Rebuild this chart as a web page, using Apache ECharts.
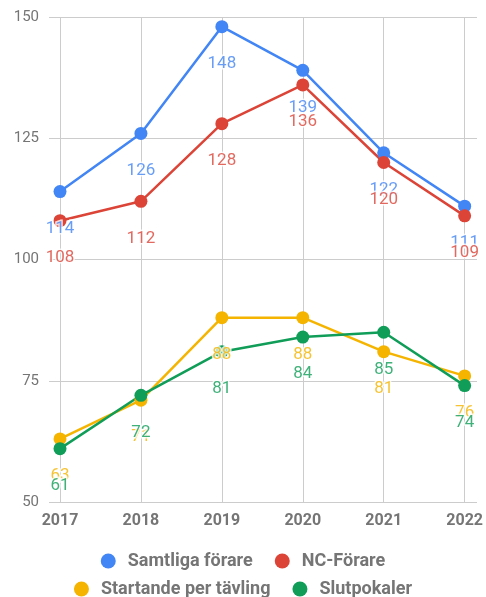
<!DOCTYPE html>
<html>
<head>
<meta charset="utf-8">
<script src="https://cdn.jsdelivr.net/npm/echarts@6/dist/echarts.min.js"></script>
<style>
  html, body { margin: 0; padding: 0; background: #fff; }
  #chart { width: 486px; height: 597px; }
</style>
</head>
<body>
<div id="chart"></div>
<script>
const years = ['2017', '2018', '2019', '2020', '2021', '2022']
const samtliga = [114, 126, 148, 139, 122, 111]
const ncForare = [108, 112, 128, 136, 120, 109]
const startande = [63, 71, 88, 88, 81, 76]
const slutpokaler = [61, 72, 81, 84, 85, 74]

const seriesNames = ['Samtliga förare', 'NC-Förare', 'Startande per tävling', 'Slutpokaler']
const colors = ['#4285F4', '#DB4437', '#F4B400', '#0F9D58']
const allValues = [samtliga, ncForare, startande, slutpokaler]

const font = 'Roboto, Arial, sans-serif'
const grey = '#757575'

const chart = echarts.init(document.getElementById('chart'))

// lines + points
function makeLine (i) {
  return {
    name: seriesNames[i],
    type: 'line',
    xAxisIndex: 1,
    yAxisIndex: 1,
    z: 2,
    data: allValues[i],
    symbol: 'circle',
    symbolSize: 13,
    color: colors[i],
    lineStyle: { width: 2.5, color: colors[i] },
    itemStyle: { color: colors[i] },
    label: { show: false },
    emphasis: { disabled: true }
  }
}

// annotations, kept above every line and point (like the original)
function makeLabels (i) {
  return {
    name: 'label-' + i,
    type: 'scatter',
    xAxisIndex: 1,
    yAxisIndex: 1,
    z: 10,
    silent: true,
    data: allValues[i],
    symbol: 'circle',
    symbolSize: 13,
    itemStyle: { color: 'transparent' },
    label: {
      show: true,
      position: 'bottom',
      distance: 22,
      color: colors[i],
      fontSize: 17,
      fontFamily: font,
      textBorderColor: '#fff',
      textBorderWidth: 3,
      formatter: p => p.value
    },
    emphasis: { disabled: true }
  }
}

const legendCommon = {
  left: 'center',
  icon: 'circle',
  itemWidth: 15,
  itemHeight: 15,
  itemGap: 22,
  selectedMode: false,
  textStyle: {
    color: grey,
    fontSize: 18,
    fontWeight: 'bold',
    fontFamily: font,
    lineHeight: 18,
    padding: [0, 0, 0, 7]
  }
}

chart.setOption({
  animation: false,
  grid: [
    { left: 49, right: 9, top: 17, bottom: 95 },
    { left: 60, right: 19, top: 17, bottom: 95 }
  ],
  legend: [
    Object.assign({}, legendCommon, { top: 547, data: seriesNames.slice(0, 2) }),
    Object.assign({}, legendCommon, { top: 575, data: seriesNames.slice(2) })
  ],
  xAxis: [
    { gridIndex: 0, type: 'category', data: years, show: false },
    {
      gridIndex: 1,
      type: 'category',
      data: years,
      boundaryGap: false,
      axisLine: { show: false },
      axisTick: { show: false },
      splitLine: { show: true, lineStyle: { color: '#cccccc', width: 1 } },
      axisLabel: {
        color: grey,
        fontSize: 16,
        fontWeight: 'bold',
        fontFamily: font,
        margin: 11
      }
    }
  ],
  yAxis: [
    {
      gridIndex: 0,
      type: 'value',
      min: 50,
      max: 150,
      interval: 25,
      axisLine: { show: false },
      axisTick: { show: false },
      splitLine: { show: true, lineStyle: { color: '#cccccc', width: 1 } },
      axisLabel: {
        color: grey,
        fontSize: 15,
        fontFamily: font,
        margin: 10
      }
    },
    { gridIndex: 1, type: 'value', min: 50, max: 150, interval: 25, show: false }
  ],
  series: [0, 1, 2, 3].map(makeLine).concat([0, 1, 2, 3].map(makeLabels))
})
</script>
</body>
</html>
